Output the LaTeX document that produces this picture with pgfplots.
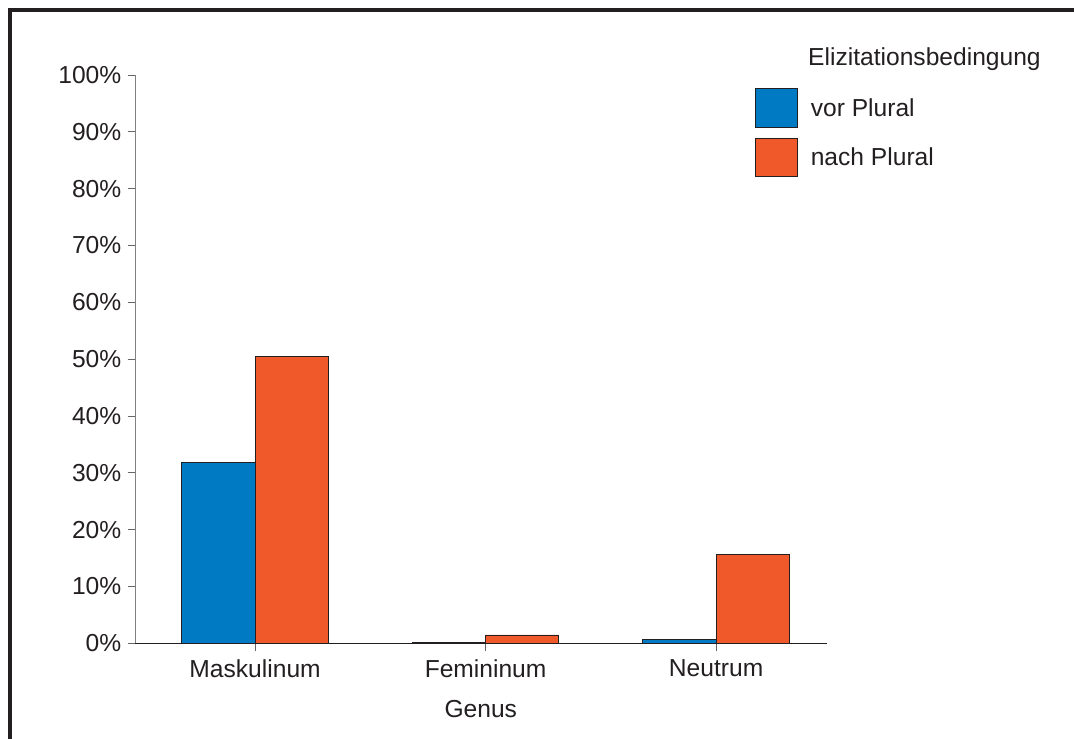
\documentclass[border=0pt]{standalone}
\usepackage{pgfplots}
\pgfplotsset{compat=1.18}
\usepackage{fontspec}
\setmainfont{Liberation Sans}
\definecolor{txt}{HTML}{231F20}
\definecolor{barblue}{RGB}{0,122,194}
\definecolor{barorange}{RGB}{240,90,42}
\newcommand\bigfont{\fontsize{24.6bp}{28bp}\selectfont}
\begin{document}
\begin{tikzpicture}[x=1bp,y=1bp]
\useasboundingbox (0,0) rectangle (1074,739);
\draw[txt, line width=3.4bp] (10,-5) -- (10,729) -- (1080,729);
\begin{axis}[
 at={(135bp,95.7bp)}, anchor=south west,
 scale only axis, width=691.5bp, height=568.3bp,
 xmin=-0.521, xmax=2.479, ymin=0, ymax=100,
 axis x line=bottom, axis y line=left,
 x axis line style={-, draw=txt, line width=1bp},
 y axis line style={-, draw=gray, line width=1bp},
 tick align=outside, major tick length=7.5bp,
 tick style={draw=gray!80!black, line width=0.8bp},
 xtick={0,1,2}, xticklabels={Maskulinum,Femininum,Neutrum},
 ytick={0,10,...,100},
 /pgf/number format/assume math mode=true,
 yticklabel={\pgfmathprintnumber{\tick}\%},
 tick label style={font=\bigfont, text=txt},
 yticklabel style={anchor=east, inner sep=0pt, xshift=-6bp},
 xticklabel style={anchor=north, inner sep=0pt, yshift=-9bp},
 xlabel={Genus},
 xlabel style={font=\bigfont, text=txt, at={(axis description cs:0.5,0)}, anchor=base, inner sep=0pt, yshift=-74.7bp},
 ybar,
 legend image code/.code={\draw[#1] (0bp,-19.25bp) rectangle (42bp,19.25bp); \path (55bp,0bp);},
 legend cell align=left,
 legend style={at={(0.8966,0.9766)}, anchor=north west, draw=none, fill=none, inner sep=0pt, outer sep=0pt, row sep=10bp, font=\bigfont, text=txt, nodes={inner sep=0pt}},
 clip=false,
]
\addplot[ybar, bar width=0.318, bar shift=-0.159, fill=barblue, draw=txt, line width=0.8bp] coordinates {(0,31.8) (1,0.2) (2,0.6)};
\addlegendentry{vor Plural}
\addplot[ybar, bar width=0.318, bar shift=0.159, fill=barorange, draw=txt, line width=0.8bp] coordinates {(0,50.55) (1,1.46) (2,15.66)};
\addlegendentry{nach Plural}
\end{axis}
\node[anchor=base west, font=\bigfont, text=txt, inner sep=0pt] at (808,673.5) {Elizitationsbedingung};
\end{tikzpicture}
\end{document}
